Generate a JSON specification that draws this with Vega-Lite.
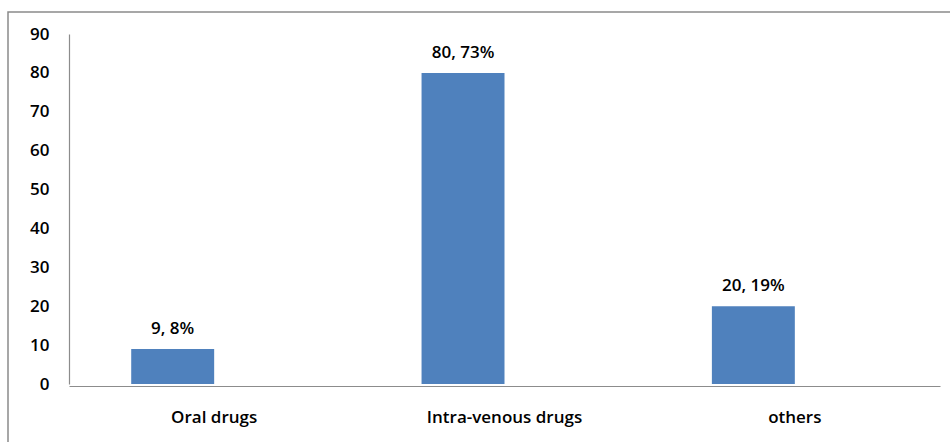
{
  "$schema": "https://vega.github.io/schema/vega-lite/v6.json",
  "autosize": "none",
  "padding": {"left": 8, "top": 12, "right": 0, "bottom": 0},
  "width": 960,
  "height": 440,
  "background": "white",
  "config": {
    "view": {"stroke": "#8a8a8a", "strokeWidth": 1.5},
    "font": "Open Sans",
    "axis": {
      "grid": false,
      "ticks": false,
      "domainColor": "#8c8c8c",
      "domainWidth": 1.2,
      "labelFont": "Open Sans",
      "labelFontWeight": 600,
      "labelFontSize": 17,
      "labelColor": "#000000",
      "title": null
    }
  },
  "data": {
    "values": [
      {"route": "Oral drugs", "series": "Count", "count": 9, "label": "9, 8%"},
      {"route": "Intra-venous drugs", "series": "Count", "count": 80, "label": "80, 73%"},
      {"route": "others", "series": "Count", "count": 20, "label": "20, 19%"}
    ]
  },
  "encoding": {
    "x": {
      "field": "route",
      "type": "nominal",
      "sort": null,
      "scale": {"range": [61, 932], "paddingInner": 0, "paddingOuter": 0},
      "axis": {"labelAngle": 0, "offset": -66, "labelPadding": 23, "labelBaseline": "top"}
    },
    "xOffset": {
      "field": "series",
      "type": "nominal",
      "scale": {"domain": ["Count", "Blank"], "paddingInner": 0, "paddingOuter": 0.75}
    },
    "y": {
      "field": "count",
      "type": "quantitative",
      "scale": {"domain": [0, 90], "range": [372, 22], "nice": false},
      "axis": {"values": [0, 10, 20, 30, 40, 50, 60, 70, 80, 90], "offset": -61, "labelPadding": 20}
    }
  },
  "layer": [
    {"mark": {"type": "bar", "color": "#4F81BD"}},
    {
      "mark": {"type": "text", "font": "Open Sans", "fontWeight": 600, "fontSize": 17, "baseline": "alphabetic", "dy": -15, "color": "#000000"},
      "encoding": {"text": {"field": "label"}}
    }
  ]
}
